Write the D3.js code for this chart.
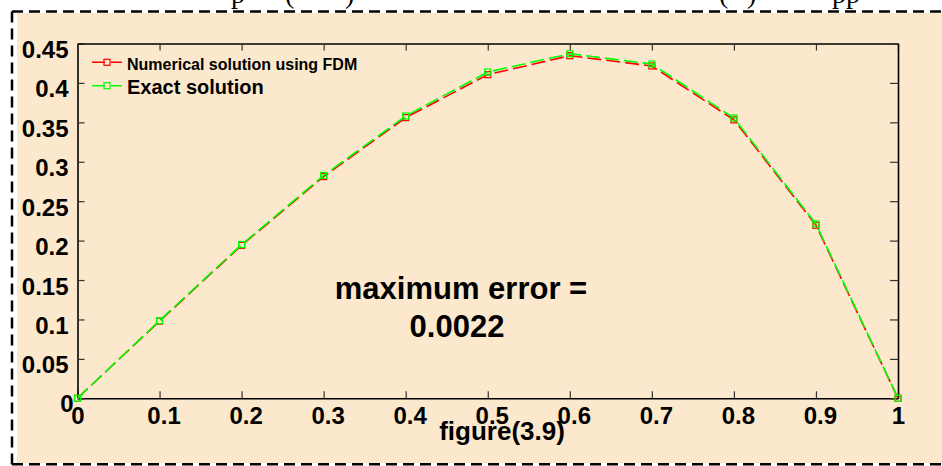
<!DOCTYPE html>
<html>
<head>
<meta charset="utf-8">
<script src="https://cdn.jsdelivr.net/npm/d3@7"></script>
<style>
  html, body { margin: 0; padding: 0; background: #ffffff; }
  svg { display: block; }
  text { font-family: "Liberation Sans", Arial, sans-serif; font-weight: bold; fill: #000; }
</style>
</head>
<body>
<svg id="chart" width="942" height="466"></svg>
<script>
// ---- data ----
const xValues = [0, 0.1, 0.2, 0.3, 0.4, 0.5, 0.6, 0.7, 0.8, 0.9, 1.0];
const numericalFDM = [0, 0.0979, 0.1940, 0.2812, 0.3560, 0.4105, 0.4345, 0.4215, 0.3532, 0.2195, 0];
const exactSolution = [0, 0.0985, 0.1950, 0.2827, 0.3580, 0.4138, 0.4370, 0.4240, 0.3555, 0.2212, 0];
const seriesNames = ["Numerical solution using FDM", "Exact solution"];
const xTicks = [0, 0.1, 0.2, 0.3, 0.4, 0.5, 0.6, 0.7, 0.8, 0.9, 1];
const xTickLabels = ["0", "0.1", "0.2", "0.3", "0.4", "0.5", "0.6", "0.7", "0.8", "0.9", "1"];
const yTicks = [0, 0.05, 0.1, 0.15, 0.2, 0.25, 0.3, 0.35, 0.4, 0.45];
const yTickLabels = ["0", "0.05", "0.1", "0.15", "0.2", "0.25", "0.3", "0.35", "0.4", "0.45"];
const xLabel = "figure(3.9)";
const noteLines = ["maximum error =", "0.0022"];

// ---- layout ----
const W = 942, H = 466;
const L = 77.5, R = 898, T = 43.5, B = 398.3;
const svg = d3.select("#chart");

// page fragments of the document line above (cut off)
const frag = svg.append("g").attr("font-family", "'Liberation Serif', 'Times New Roman', serif")
  .attr("font-size", 28);
[["p", 231], ["(", 285], [")", 345], ["(", 719], [")", 747], ["pp", 832]].forEach(([t, x]) => {
  frag.append("text").attr("x", x).attr("y", 3)
    .style("font-family", "'Liberation Serif', 'Times New Roman', serif")
    .style("font-weight", "normal").text(t);
});

// beige figure background
svg.append("rect").attr("x", 17).attr("y", 13).attr("width", W - 17).attr("height", 450)
  .attr("fill", "#FCE8CC");

// dashed frame
const dash = svg.append("g").attr("stroke", "#000").attr("stroke-width", 2.5)
  .attr("stroke-dasharray", "11,6").attr("fill", "none");
dash.append("line").attr("x1", 12).attr("x2", W).attr("y1", 11.5).attr("y2", 11.5);
dash.append("line").attr("x1", 12).attr("x2", 12).attr("y1", 11.5).attr("y2", H);
dash.append("line").attr("x1", 12).attr("x2", W).attr("y1", 464.3).attr("y2", 464.3);

// scales
const x = d3.scaleLinear().domain([0, 1]).range([L, R]);
const y = d3.scaleLinear().domain([0, 0.45]).range([B, T]);

// axes
const axB = svg.append("g").attr("transform", `translate(0,${B})`)
  .call(d3.axisBottom(x).tickValues(xTicks).tickFormat((d, i) => xTickLabels[i])
    .tickSizeInner(-7).tickSizeOuter(0));
axB.selectAll("text").attr("y", 26).attr("dy", 0)
  .attr("dx", (d, i) => xTickLabels[i].length > 1 ? 4 : 0)
  .style("font-size", "24px");

const axL = svg.append("g").attr("transform", `translate(${L},0)`)
  .call(d3.axisLeft(y).tickValues(yTicks).tickFormat((d, i) => yTickLabels[i])
    .tickSizeInner(-7).tickSizeOuter(0));
axL.selectAll("text").attr("x", (d, i) => yTickLabels[i] === "0" ? -4 : -9)
  .attr("dy", 0).attr("y", (d, i) => yTickLabels[i] === "0" ? 13.4 : 14)
  .style("font-size", "24px");

svg.append("g").attr("transform", `translate(0,${T})`)
  .call(d3.axisTop(x).tickValues(xTicks).tickFormat("").tickSizeInner(-7).tickSizeOuter(0));
svg.append("g").attr("transform", `translate(${R},0)`)
  .call(d3.axisRight(y).tickValues(yTicks).tickFormat("").tickSizeInner(-8).tickSizeOuter(0));

svg.selectAll(".domain").attr("stroke", "#000").attr("stroke-width", 1.6);
svg.selectAll(".tick line").attr("stroke", "#333").attr("stroke-width", 1.2);
svg.selectAll(".tick text").attr("fill", "#000")
  .style("font-family", "'Liberation Sans', Arial, sans-serif").style("font-weight", "bold");

// series
const series = [
  { name: seriesNames[0], values: numericalFDM, color: "#FF0000" },
  { name: seriesNames[1], values: exactSolution, color: "#00FF00" }
];
const line = d3.line().x((d, i) => x(xValues[i])).y(d => y(d));
const MS = 6;
series.forEach(s => {
  const g = svg.append("g");
  g.append("path").datum(s.values).attr("d", line)
    .attr("fill", "none").attr("stroke", s.color).attr("stroke-width", 1.6)
    .attr("stroke-dasharray", "14,5");
  g.selectAll("rect").data(s.values).join("rect")
    .attr("x", (d, i) => x(xValues[i]) - MS / 2).attr("y", d => y(d) - MS / 2)
    .attr("width", MS).attr("height", MS)
    .attr("fill", "none").attr("stroke", s.color).attr("stroke-width", 1.2);
});

// legend
const legendRows = [
  { y: 62.3, base: 70, size: 16 },
  { y: 85.7, base: 94.3, size: 20 }
];
series.forEach((s, i) => {
  const r = legendRows[i];
  svg.append("line").attr("x1", 92).attr("x2", 122).attr("y1", r.y).attr("y2", r.y)
    .attr("stroke", s.color).attr("stroke-width", 1.6).attr("stroke-dasharray", "13,6");
  svg.append("rect").attr("x", 107 - MS / 2).attr("y", r.y - MS / 2)
    .attr("width", MS).attr("height", MS).attr("fill", "none")
    .attr("stroke", s.color).attr("stroke-width", 1.2);
  svg.append("text").attr("x", 127).attr("y", r.base).style("font-size", r.size + "px").text(s.name);
});

// annotation
svg.append("text").attr("x", 461).attr("y", 299.3).attr("text-anchor", "middle")
  .style("font-size", "31px").text(noteLines[0]);
svg.append("text").attr("x", 457).attr("y", 337.3).attr("text-anchor", "middle")
  .style("font-size", "31px").text(noteLines[1]);

// x label
svg.append("text").attr("x", 502).attr("y", 440).attr("text-anchor", "middle")
  .style("font-size", "26px").text(xLabel);
</script>
</body>
</html>
